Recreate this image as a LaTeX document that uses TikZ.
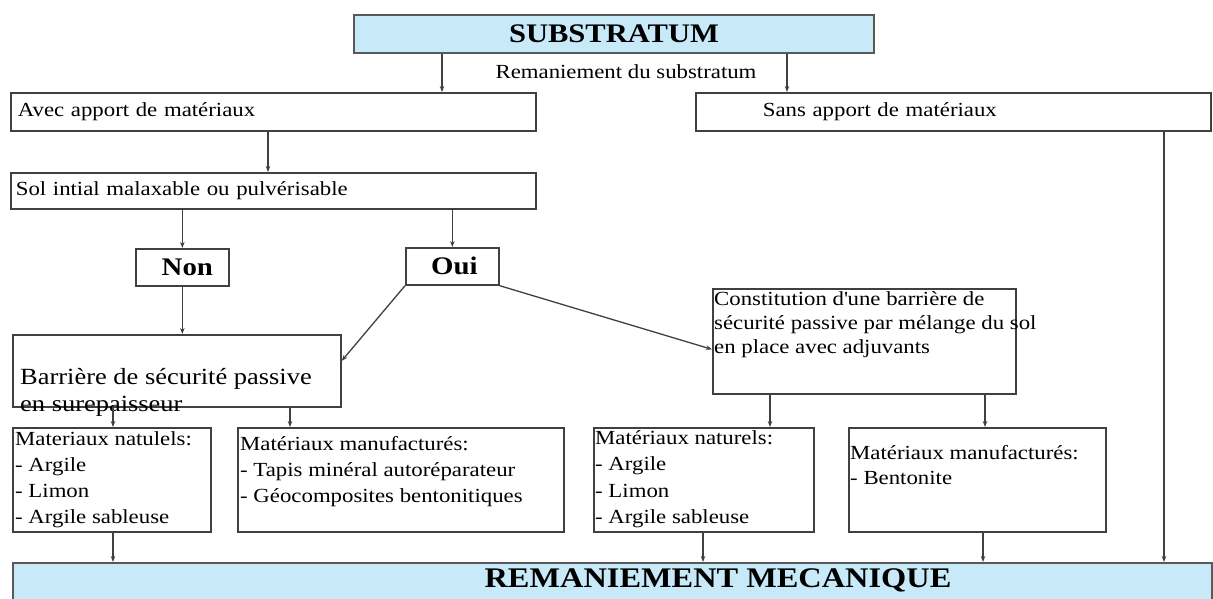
\documentclass[tikz,border=0pt]{standalone}
\usepackage{fontspec}
\setmainfont{Liberation Serif}[FakeStretch=1.14]
\usepackage{xcolor}
\usetikzlibrary{arrows.meta}
\usetikzlibrary{positioning}

\definecolor{bleuciel}{HTML}{C8EAF8}
\definecolor{trait}{HTML}{404040}

\begin{document}
\begin{tikzpicture}[
  x=1pt, y=-1pt,
  every node/.style={font=\fontsize{20}{25}\selectfont, inner sep=0pt},
  boite/.style={draw=trait, line width=1.7pt, rectangle, anchor=north west},
  bandeau/.style={boite, fill=bleuciel, draw=gray!70!black, line width=2pt},
  texte/.style={anchor=north west, align=left},
  gras/.style={font=\bfseries\fontsize{#1}{#1}\selectfont},
  fleche/.style={draw=trait, line width=1.3pt, -{Stealth[length=6pt,width=4.5pt]}}
]
  \useasboundingbox (0,0) rectangle (1213,598);

  % haut
  \node[bandeau, minimum width=520pt, minimum height=38pt, gras=26.8] (substratum) at (353,14) {SUBSTRATUM};
  \node (remaniement) at (626,72) {Remaniement du substratum};

  \node[boite, minimum height=38pt, text width=511pt, inner xsep=7pt, align=left] (avec) at (10,92) {Avec apport de matériaux};
  \node[boite, minimum height=38pt, text width=501pt, inner xsep=7pt, align=left] (sans) at (695,92) {\hspace*{60pt}Sans apport de matériaux};
  \node[boite, minimum height=36pt, text width=515pt, inner xsep=5pt, align=left] (sol) at (10,172) {Sol intial malaxable ou pulvérisable};

  \node[boite, minimum width=93pt, minimum height=37pt, gras=25.3] (non) at (135,248) {\hspace*{10pt}Non};
  \node[boite, minimum width=93pt, minimum height=37pt, gras=25.3] (oui) at (405,247) {\hspace*{4pt}Oui};

  % barrieres
  \node[boite, minimum width=328pt, minimum height=72pt] (barriere) at (12,334) {};
  \node[texte, font=\fontsize{23.2}{27}\selectfont] (barriere-t) at (20,368) {Barrière de sécurité passive\\en surepaisseur};

  \node[boite, minimum width=303pt, minimum height=105pt] (constitution) at (712,288) {};
  \node[texte, font=\fontsize{20}{24}\selectfont] (constitution-t) at (714,291) {Constitution d\textquotesingle une barrière de\\sécurité passive par mélange du sol\\en place avec adjuvants};

  % materiaux
  \node[boite, minimum width=198pt, minimum height=104pt] (natA) at (12,427) {};
  \node[texte, font=\fontsize{20}{26}\selectfont] (natA-t) at (15,431) {Materiaux natulels:\\- Argile\\- Limon\\- Argile sableuse};

  \node[boite, minimum width=326pt, minimum height=104pt] (manufA) at (237,427) {};
  \node[texte, font=\fontsize{20}{26}\selectfont] (manufA-t) at (240,436) {Matériaux manufacturés:\\- Tapis minéral autoréparateur\\- Géocomposites bentonitiques};

  \node[boite, minimum width=220pt, minimum height=104pt] (natB) at (593,427) {};
  \node[texte, font=\fontsize{20}{26.5}\selectfont] (natB-t) at (595,430) {Matériaux naturels:\\- Argile\\- Limon\\- Argile sableuse};

  \node[boite, minimum width=257pt, minimum height=104pt] (manufB) at (848,427) {};
  \node[texte] (manufB-t) at (850,445) {Matériaux manufacturés:\\- Bentonite};

  % bas
  \node[bandeau, minimum width=1199pt, minimum height=50pt] (mecanique) at (12,562) {};
  \node[gras=28.4] (mecanique-t) at (718,580) {REMANIEMENT MECANIQUE};

  % fleches
  \draw[fleche] (442,0 |- substratum.south) -- (442,0 |- avec.north);
  \draw[fleche] (787,0 |- substratum.south) -- (787,0 |- sans.north);
  \draw[fleche] (268,0 |- avec.south) -- (268,0 |- sol.north);
  \draw[fleche] (non.north |- sol.south) -- (non.north);
  \draw[fleche] (oui.north |- sol.south) -- (oui.north);
  \draw[fleche] (non.south) -- (non.south |- barriere.north);
  \draw[fleche] (oui.south west) -- ([yshift=10pt]barriere.east);
  \draw[fleche] (oui.south east) -- ([yshift=-8pt]constitution.west);
  \draw[fleche] (113,0 |- barriere.south) -- (113,0 |- natA.north);
  \draw[fleche] (290,0 |- barriere.south) -- (290,0 |- manufA.north);
  \draw[fleche] (770,0 |- constitution.south) -- (770,0 |- natB.north);
  \draw[fleche] (985,0 |- constitution.south) -- (985,0 |- manufB.north);
  \draw[fleche] (113,0 |- natA.south) -- (113,0 |- mecanique.north);
  \draw[fleche] (703,0 |- natB.south) -- (703,0 |- mecanique.north);
  \draw[fleche] (983,0 |- manufB.south) -- (983,0 |- mecanique.north);
  \draw[fleche] (1164,0 |- sans.south) -- (1164,0 |- mecanique.north);
\end{tikzpicture}
\end{document}
